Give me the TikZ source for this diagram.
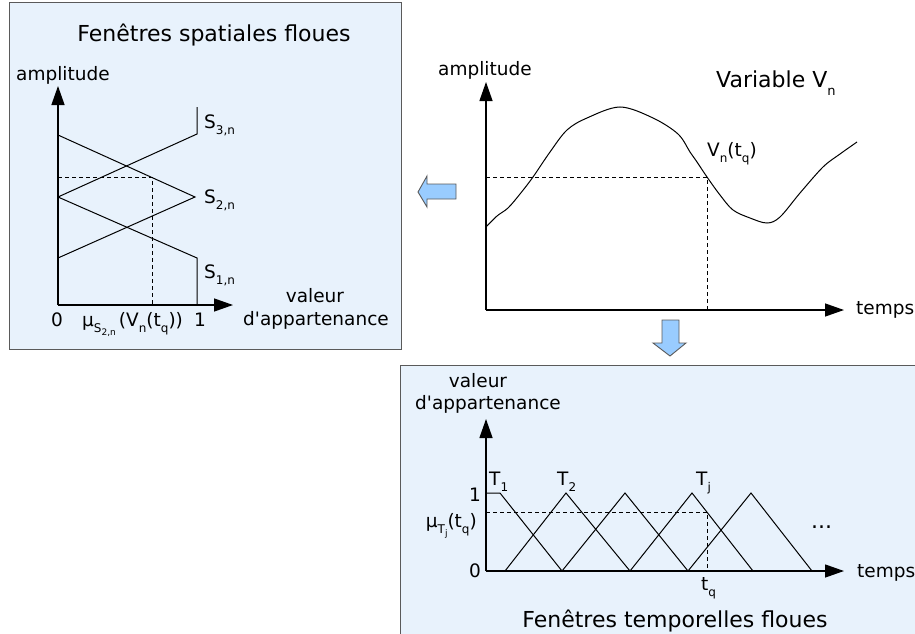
\documentclass[tikz,border=0pt]{standalone}
\usepackage{fontspec}
\setmainfont{DejaVu Sans}[Ligatures=TeXOff]
\usetikzlibrary{arrows.meta}
\definecolor{panelblue}{RGB}{232,242,252}
\definecolor{arrowblue}{RGB}{153,204,255}
\definecolor{edgegray}{RGB}{90,90,90}
\newcommand\smsub[1]{\raisebox{-6pt}{\fontsize{12}{12}\selectfont #1}}
\newcommand\tnsub[1]{\raisebox{-3pt}{\fontsize{9}{9}\selectfont #1}}
\newcommand\bgsub[1]{\raisebox{-8pt}{\fontsize{13}{13}\selectfont #1}}
\begin{document}
\begin{tikzpicture}[x=1pt,y=-1pt,
  lbl/.style={inner sep=0pt, font=\fontsize{18.5}{21}\selectfont},
  ttl/.style={inner sep=0pt, font=\fontsize{22}{26}\selectfont},
  panel/.style={draw=edgegray, fill=panelblue, line width=1pt},
  axis/.style={line width=1.3pt, -{Triangle[length=19pt,width=13pt]}},
  fline/.style={line width=1pt},
  guide/.style={line width=0.9pt, dash pattern=on 4pt off 3pt},
  bigarrow/.style={draw=edgegray, fill=arrowblue, line width=0.9pt, line join=miter}]
\useasboundingbox (0,0) rectangle (915,634);
% panels
\draw[panel] (9,3) rectangle (401,349);
\draw[panel] (400,365) rectangle (930,650);

% block arrows
\draw[bigarrow] (418,192) -- (427,176) -- (427,184) -- (456,184) -- (456,199) -- (427,199) -- (427,207) -- cycle;
\draw[bigarrow] (662,320) -- (679,320) -- (679,343) -- (686,343) -- (670,356) -- (653,343) -- (662,343) -- cycle;

% ---------- left panel: fuzzy spatial windows ----------
\node[ttl, anchor=base] (t1) at (214,42) {Fenêtres spatiales floues};
\node[lbl, anchor=base west] (amp1) at (16,81) {amplitude};
\coordinate (A0) at (58,305);
\coordinate (Ay) at (58,86);
\coordinate (Ax) at (233,305);
\draw[axis] (A0) -- (Ay);
\draw[axis] (A0) -- (Ax);
\coordinate (L0) at (58,135);
\coordinate (L1) at (58,197);
\coordinate (L2) at (58,258);
\coordinate (R3t) at (197,107);
\coordinate (R3) at (197,134);
\coordinate (R2) at (195,197);
\coordinate (R1) at (197,258);
\coordinate (R0) at (197,305);
\draw[fline] (L0) -- (R2) -- (L2);
\draw[fline] (L1) -- (R3) -- (R3t);
\draw[fline] (L1) -- (R1) -- (R0);
\coordinate (DA) at (58,177);
\coordinate (DB) at (152,177);
\coordinate (DC) at (152,305);
\draw[guide] (DA) -- (DB) -- (DC);
\node[lbl, anchor=base west] (s3) at (204,128) {S\smsub{3,n}};
\node[lbl, anchor=base west] (s2) at (204,203) {S\smsub{2,n}};
\node[lbl, anchor=base west] (s1) at (204,278) {S\smsub{1,n}};
\node[lbl, anchor=base] (z1) at (57,326) {0};
\node[lbl, anchor=base] (o1) at (200,326) {1};
\node[lbl, anchor=base west] (mu1) at (82,326) {μ\smsub{S\tnsub{2,n}}\,(V\smsub{n}(t\smsub{q}))};
\node[lbl, anchor=base] (val1) at (315,302) {valeur};
\node[lbl, anchor=base] (app1) at (316,325) {d'appartenance};

% ---------- top right: variable ----------
\node[lbl, anchor=base west] (amp2) at (438,75) {amplitude};
\node[ttl, anchor=base west] (var) at (716,87) {Variable V\bgsub{n}};
\coordinate (B0) at (486,310);
\coordinate (By) at (486,82);
\coordinate (Bx) at (844,310);
\draw[axis] (B0) -- (By);
\draw[axis] (B0) -- (Bx);
\draw[fline] plot[smooth, tension=0.55] coordinates {(486,227) (497,216) (508,208) (520,194) (533,177) (550,152) (567,130) (587,118) (620,107) (653,118) (678,134) (690,152) (697,162) (707,177) (720,195) (733,210) (750,218) (767,223) (780,217) (800,193) (823,167) (840,154) (857,142)};
\coordinate (EA) at (486,177);
\coordinate (EB) at (707,177);
\coordinate (EC) at (707,310);
\draw[guide] (EA) -- (EB) -- (EC);
\node[lbl, anchor=base west] (vtq) at (707,156) {V\smsub{n}(t\smsub{q})};
\node[lbl, anchor=base west] (tps1) at (856,314) {temps};

% ---------- bottom panel: fuzzy temporal windows ----------
\node[lbl, anchor=base] (val2) at (478,387) {valeur};
\node[lbl, anchor=base] (app2) at (488,409) {d'appartenance};
\coordinate (C0) at (486,571);
\coordinate (Cy) at (486,419);
\coordinate (Cx) at (844,571);
\draw[axis] (C0) -- (Cy);
\draw[axis] (C0) -- (Cx);
\draw[fline] (486,493) -- (500,493) -- (562,571);
\draw[fline] (505,571) -- (566,493) -- (630,571);
\draw[fline] (562,571) -- (625,493) -- (688,571);
\draw[fline] (630,571) -- (692,493) -- (753,571);
\draw[fline] (688,571) -- (751,493) -- (812,571);
\coordinate (FA) at (486,512);
\coordinate (FB) at (707,512);
\coordinate (FC) at (707,571);
\draw[guide] (FA) -- (FB) -- (FC);
\node[lbl, anchor=base west] (T1) at (489,485) {T\smsub{1}};
\node[lbl, anchor=base west] (T2) at (557,485) {T\smsub{2}};
\node[lbl, anchor=base west] (Tj) at (696,485) {T\smsub{j}};
\node[lbl, anchor=base] (one2) at (475,501) {1};
\node[lbl, anchor=base east] (mu2) at (477,527) {μ\smsub{T\tnsub{j}}(t\smsub{q})};
\node[lbl, anchor=base] (zero2) at (475,577) {0};
\node[ttl, anchor=base west] (dots) at (811,528) {...};
\node[lbl, anchor=base west] (tps2) at (857,577) {temps};
\node[lbl, anchor=base west] (tq) at (701,590) {t\smsub{q}};
\node[ttl, anchor=base] (t2) at (675,627) {Fenêtres temporelles floues};
\end{tikzpicture}
\end{document}
